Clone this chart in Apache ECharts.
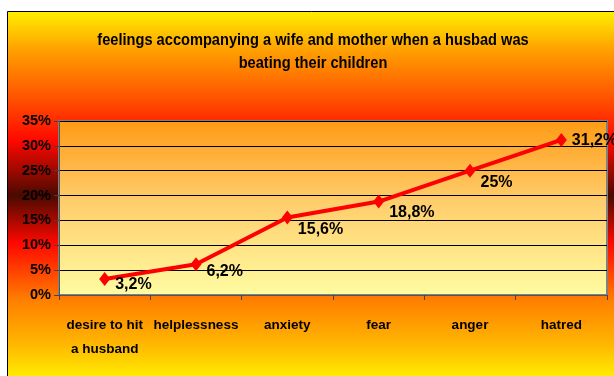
<!DOCTYPE html>
<html>
<head>
<meta charset="utf-8">
<script src="https://cdn.jsdelivr.net/npm/echarts@6/dist/echarts.min.js"></script>
<style>
  html, body { margin: 0; padding: 0; background: #ffffff; }
  #chart { width: 614px; height: 376px; }
</style>
</head>
<body>
<div id="chart"></div>
<script>
// Share of responses for each feeling (%)
const categories = ['desire to hit\na husband', 'helplessness', 'anxiety', 'fear', 'anger', 'hatred'];
const values = [3.2, 6.2, 15.6, 18.8, 25, 31.2];
const valueLabels = ['3,2%', '6,2%', '15,6%', '18,8%', '25%', '31,2%'];
// vertical nudge of each value label below its point
const labelDrop = [6, 7, 12, 11, 12, 1];
const titleText = 'feelings accompanying a wife and mother when a husbad was\nbeating their children';

const FONT = '"Liberation Sans Narrow", "Arial Narrow", "Liberation Sans", Arial, sans-serif';

const chart = echarts.init(document.getElementById('chart'), null, { renderer: 'canvas' });

const bgGradient = new echarts.graphic.LinearGradient(0, 0, 0, 1, [
  { offset: 0.00, color: '#FFF000' },
  { offset: 0.10, color: '#FFA200' },
  { offset: 0.23, color: '#FF5200' },
  { offset: 0.34, color: '#FF0800' },
  { offset: 0.485, color: '#4A0A00' },
  { offset: 0.61, color: '#FF0800' },
  { offset: 0.76, color: '#FF8000' },
  { offset: 0.87, color: '#FFB400' },
  { offset: 0.96, color: '#FFEC00' },
  { offset: 1.00, color: '#FFF200' }
]);

const plotGradient = new echarts.graphic.LinearGradient(0, 0, 0, 1, [
  { offset: 0, color: '#FF9A14' },
  { offset: 0.45, color: '#FFCC6A' },
  { offset: 1, color: '#FFFCA2' }
]);

chart.setOption({
  animation: false,
  graphic: [{
    type: 'rect',
    z: -10,
    silent: true,
    shape: { x: 7.5, y: 11.5, width: 620, height: 380 },
    style: { fill: bgGradient, stroke: '#000000', lineWidth: 1 }
  }, {
    // condensed bold heading
    type: 'text',
    silent: true,
    x: 313,
    y: 29,
    scaleX: 0.86,
    style: {
      text: titleText,
      align: 'center',
      verticalAlign: 'top',
      font: 'bold 17px ' + FONT,
      lineHeight: 23,
      fill: '#000000'
    }
  }],
  grid: {
    left: 59,
    right: 7,
    top: 121,
    bottom: 81,
    show: true,
    backgroundColor: plotGradient,
    borderColor: '#808080',
    borderWidth: 2
  },
  xAxis: {
    type: 'category',
    data: categories,
    boundaryGap: true,
    axisLine: { lineStyle: { color: '#555555', width: 1 } },
    axisTick: { show: true, alignWithLabel: false, length: 5, lineStyle: { color: '#444444' } },
    axisLabel: {
      margin: 18,
      fontFamily: FONT,
      fontSize: 13.5,
      fontWeight: 'bold',
      color: '#000000',
      lineHeight: 24,
      interval: 0
    }
  },
  yAxis: {
    type: 'value',
    min: 0,
    max: 35,
    interval: 5,
    axisLine: { show: true, lineStyle: { color: '#555555' } },
    axisTick: { show: true, length: 5, lineStyle: { color: '#444444' } },
    splitLine: { show: true, lineStyle: { color: '#000000', width: 1 } },
    axisLabel: {
      margin: 8,
      fontFamily: FONT,
      fontSize: 14.5,
      fontWeight: 'bold',
      color: '#000000',
      formatter: '{value}%'
    }
  },
  series: [{
    type: 'line',
    data: values.map((v, i) => ({
      value: v,
      label: { offset: [0, labelDrop[i]] }
    })),
    lineStyle: { color: '#FF0000', width: 4 },
    itemStyle: { color: '#FF0000' },
    symbol: 'diamond',
    symbolSize: [11, 14],
    z: 5,
    label: {
      show: true,
      position: 'right',
      distance: 5,
      fontFamily: FONT,
      fontSize: 16,
      fontWeight: 'bold',
      color: '#000000',
      formatter: p => valueLabels[p.dataIndex]
    }
  }]
});
</script>
</body>
</html>
